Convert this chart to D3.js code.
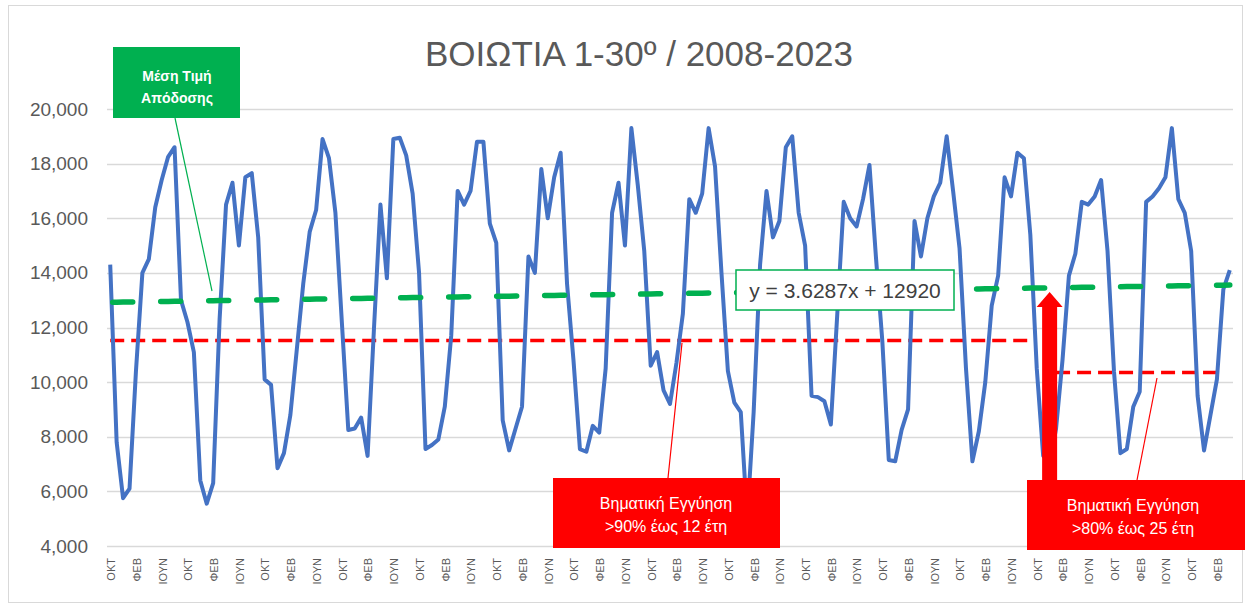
<!DOCTYPE html>
<html>
<head>
<meta charset="utf-8">
<script src="https://cdn.jsdelivr.net/npm/d3@7"></script>
<style>
  html, body { margin: 0; background: #fff; }
  svg { display: block; }
  text { font-family: "Liberation Sans", Arial, sans-serif; }
</style>
</head>
<body>
<div id="chart"></div>
<script>
const monthNames = ["ΙΑΝ", "ΦΕΒ", "ΜΑΡ", "ΑΠΡ", "ΜΑΙ", "ΙΟΥΝ", "ΙΟΥΛ", "ΑΥΓ", "ΣΕΠ", "ΟΚΤ", "ΝΟΕ", "ΔΕΚ"];

// monthly yield, Oct 2008 .. Apr 2023 (one row per Oct..Sep season)
const yieldValues = [
  14300, 7800, 5750, 6100, 10400, 14000, 14500, 16400, 17400, 18250, 18600, 13000,
  12200, 11100, 6400, 5550, 6300, 12300, 16500, 17300, 15000, 17500, 17650, 15300,
  10100, 9900, 6850, 7400, 8800, 11200, 13600, 15500, 16300, 18900, 18200, 16200,
  12200, 8250, 8300, 8700, 7300, 12000, 16500, 13800, 18900, 18950, 18300, 16900,
  14000, 7550, 7700, 7900, 9100, 11700, 17000, 16500, 17000, 18800, 18800, 15800,
  15100, 8600, 7500, 8300, 9100, 14600, 14000, 17800, 16000, 17500, 18400, 13600,
  10800, 7550, 7450, 8400, 8150, 10500, 16200, 17300, 15000, 19300, 17200, 14800,
  10600, 11100, 9700, 9200, 10700, 12500, 16700, 16200, 16900, 19300, 17900, 14000,
  10400, 9250, 8900, 5000, 8900, 14300, 17000, 15300, 15900, 18600, 19000, 16200,
  15000, 9500, 9450, 9300, 8450, 12500, 16600, 16000, 15700, 16700, 17950, 14600,
  11500, 7150, 7100, 8250, 9000, 15900, 14600, 16000, 16800, 17300, 19000, 17000,
  14900, 10500, 7100, 8200, 10000, 12800, 13900, 17500, 16800, 18400, 18200, 15400,
  10500, 7300, 7000, 8300, 10800, 13900, 14700, 16600, 16500, 16800, 17400, 14800,
  10400, 7400, 7550, 9100, 9650, 16600, 16800, 17100, 17500, 19300, 16700, 16200,
  14800, 9500, 7500, 8800, 10100, 13400, 14100
];

const categories = yieldValues.map((_, i) => {
  const m = (9 + i) % 12;
  const y = 2008 + Math.floor((9 + i) / 12);
  return `${monthNames[m]} ${y}`;
});

const yTicks = [4000, 6000, 8000, 10000, 12000, 14000, 16000, 18000, 20000];
const trendCoef = [3.6287, 12920];
const trendLabel = "y = 3.6287x + 12920";

const guaranteeLevels = [
  { from: 0, to: 143, value: 11520, text: ["Βηματική  Εγγύηση", ">90% έως 12 έτη"] },
  { from: 147, to: 173, value: 10350, text: ["Βηματική  Εγγύηση", ">80% έως 25 έτη"] }
];

const palette = {
  line: "#4472c4",
  trend: "#00b050",
  guarantee: "#ff0000",
  grid: "#d9d9d9",
  axisText: "#595959",
  title: "#595959",
  labelText: "#404040"
};

const width = 1245;
const height = 606;
const plot = { left: 107, right: 1233, top: 109, bottom: 546 };

const svg = d3.select("#chart").append("svg")
  .attr("width", width)
  .attr("height", height);

svg.append("rect")
  .attr("x", 8.5).attr("y", 5.5)
  .attr("width", 1234).attr("height", 597)
  .attr("fill", "#fff")
  .attr("stroke", palette.grid);

const x = d3.scalePoint()
  .domain(d3.range(yieldValues.length))
  .range([plot.left, plot.right])
  .padding(0.5);

const y = d3.scaleLinear()
  .domain([4000, 20000])
  .range([plot.bottom, plot.top]);

// title
svg.append("text")
  .attr("x", 639).attr("y", 66)
  .attr("text-anchor", "middle")
  .attr("fill", palette.title)
  .attr("font-size", 35)
  .text("ΒΟΙΩΤΙΑ 1-30º / 2008-2023");

// gridlines
svg.append("g")
  .selectAll("line")
  .data(yTicks)
  .join("line")
  .attr("x1", plot.left).attr("x2", plot.right)
  .attr("y1", d => Math.round(y(d)) + 0.5)
  .attr("y2", d => Math.round(y(d)) + 0.5)
  .attr("stroke", palette.grid)
  .attr("stroke-width", 1.3);

// y axis labels
const yAxis = d3.axisLeft(y)
  .tickValues(yTicks)
  .tickFormat(d3.format(","))
  .tickSize(0)
  .tickPadding(0);

svg.append("g")
  .attr("transform", "translate(88,0)")
  .call(yAxis)
  .call(g => g.select(".domain").remove())
  .call(g => g.selectAll("text")
    .attr("fill", palette.axisText)
    .attr("font-size", 19)
    .attr("font-family", "\"Liberation Sans\", Arial, sans-serif"));

// x axis labels (every 4th month)
const xTicks = d3.range(0, yieldValues.length, 4);
svg.append("g")
  .selectAll("text")
  .data(xTicks)
  .join("text")
  .attr("transform", d => `translate(${x(d) + 1},558) rotate(-90)`)
  .attr("text-anchor", "end")
  .attr("dy", "0.35em")
  .attr("fill", palette.axisText)
  .attr("font-size", 11)
  .text(d => categories[d].split(" ")[0]);

// guarantee levels (red dashed)
svg.append("g")
  .selectAll("line")
  .data(guaranteeLevels)
  .join("line")
  .attr("x1", d => x(d.from))
  .attr("x2", d => x(d.to))
  .attr("y1", d => y(d.value))
  .attr("y2", d => y(d.value))
  .attr("stroke", palette.guarantee)
  .attr("stroke-width", 3.5)
  .attr("stroke-dasharray", "14 7");

// main series
const line = d3.line()
  .x((d, i) => x(i))
  .y(d => y(d));

svg.append("path")
  .datum(yieldValues)
  .attr("fill", "none")
  .attr("stroke", palette.line)
  .attr("stroke-width", 4)
  .attr("stroke-linejoin", "round")
  .attr("d", line);

// linear trendline
const trendValues = yieldValues.map((_, i) => trendCoef[0] * (i + 1) + trendCoef[1]);
svg.append("path")
  .datum(trendValues)
  .attr("fill", "none")
  .attr("stroke", palette.trend)
  .attr("stroke-width", 5.5)
  .attr("stroke-linecap", "round")
  .attr("stroke-dasharray", "20 28")
  .attr("stroke-dashoffset", -2.5)
  .attr("d", line);

// trendline equation label
const eq = svg.append("g");
eq.append("rect")
  .attr("x", 736).attr("y", 270)
  .attr("width", 218).attr("height", 40)
  .attr("fill", "#fff")
  .attr("stroke", palette.trend)
  .attr("stroke-width", 1.5);
eq.append("text")
  .attr("x", 845).attr("y", 298)
  .attr("text-anchor", "middle")
  .attr("fill", palette.labelText)
  .attr("font-size", 21)
  .text(trendLabel);

// step arrow
const ax = x(146);
const tipY = y(13300);
const baseY = 480;
svg.append("path")
  .attr("d", `M${ax - 7.5},${baseY} L${ax - 7.5},${tipY + 15} L${ax - 13},${tipY + 15} L${ax},${tipY} L${ax + 13},${tipY + 15} L${ax + 7.5},${tipY + 15} L${ax + 7.5},${baseY} Z`)
  .attr("fill", palette.guarantee);

// green callout
svg.append("line")
  .attr("x1", 175).attr("y1", 118)
  .attr("x2", 212).attr("y2", 291)
  .attr("stroke", palette.trend)
  .attr("stroke-width", 1.2);
svg.append("rect")
  .attr("x", 113).attr("y", 47)
  .attr("width", 127).attr("height", 71)
  .attr("fill", palette.trend);
svg.append("text")
  .attr("x", 177).attr("y", 81)
  .attr("text-anchor", "middle")
  .attr("fill", "#fff")
  .attr("font-size", 14)
  .attr("font-weight", 700)
  .text("Μέση  Τιμή");
svg.append("text")
  .attr("x", 177).attr("y", 103)
  .attr("text-anchor", "middle")
  .attr("fill", "#fff")
  .attr("font-size", 14)
  .attr("font-weight", 700)
  .text("Απόδοσης");

// red callouts
const callouts = [
  { box: [553, 478, 227, 70], leader: [668, 478, 682, 343], cx: 666 },
  { box: [1027, 480, 218, 70], leader: [1137, 480, 1157, 378], cx: 1133 }
];
callouts.forEach((c, k) => {
  svg.append("line")
    .attr("x1", c.leader[0]).attr("y1", c.leader[1])
    .attr("x2", c.leader[2]).attr("y2", c.leader[3])
    .attr("stroke", palette.guarantee)
    .attr("stroke-width", 1.2);
  svg.append("rect")
    .attr("x", c.box[0]).attr("y", c.box[1])
    .attr("width", c.box[2]).attr("height", c.box[3])
    .attr("fill", palette.guarantee);
  guaranteeLevels[k].text.forEach((t, j) => {
    svg.append("text")
      .attr("x", c.cx).attr("y", c.box[1] + 31 + j * 23)
      .attr("text-anchor", "middle")
      .attr("fill", "#fff")
      .attr("font-size", 16)
      .text(t);
  });
});
</script>
</body>
</html>
